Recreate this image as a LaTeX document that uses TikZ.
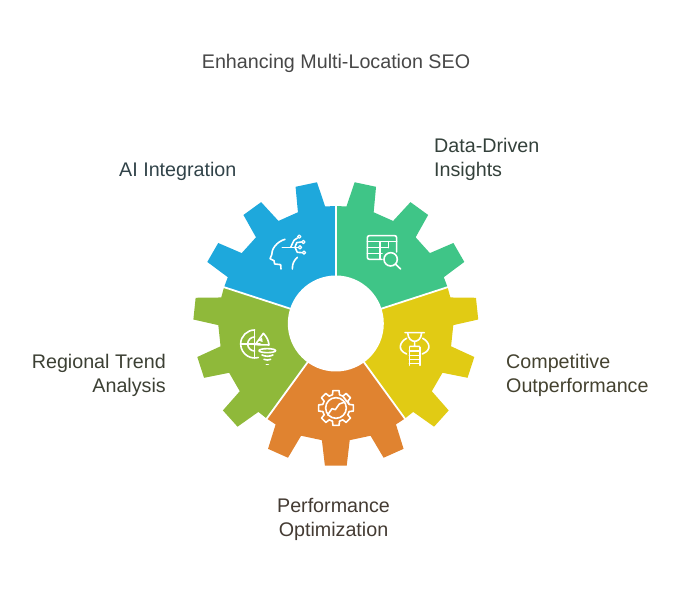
\documentclass[tikz,border=0pt]{standalone}
\usepackage{fontspec}
\setmainfont{Liberation Sans}
\definecolor{gearblue}{HTML}{1EA8DC}
\definecolor{geargreen}{HTML}{3FC587}
\definecolor{gearyellow}{HTML}{E1CB14}
\definecolor{gearorange}{HTML}{E08330}
\definecolor{gearolive}{HTML}{8FB93A}
\tikzset{
  label/.style={inner sep=0pt,font=\fontsize{19.7}{24}\selectfont},
  icon/.style={white,line width=1.6pt,line cap=round,line join=round}
}
\begin{document}
\begin{tikzpicture}[x=1pt,y=1pt]
\useasboundingbox (0,0) rectangle (684,588);
% gear
\begin{scope}[shift={(335.8,264.5)}]
\foreach \s/\col in {162/gearblue,90/geargreen,18/gearyellow,-54/gearorange,-126/gearolive}
\fill[\col] (\s:40) -- (\s:117.5) \foreach \k in {12,36,60} {
  -- ({\s-\k+6.8}:117.5) -- ({\s-\k+4.4}:142.5) -- ({\s-\k-4.4}:142.5) -- ({\s-\k-6.8}:117.5)
} -- ({\s-72}:117.5) -- ({\s-72}:40) -- cycle;
\foreach \s in {162,90,18,-54,-126}
\draw[white,line width=1.8pt] (\s:40) -- (\s:125);
\fill[white] (0,0) circle[radius=48];
\end{scope}
% icons
\begin{scope}[shift={(180,418)},x=.3333pt,y=-.3333pt]
% head
\draw[icon] (315,208) .. controls (290,215) and (274,238) .. (275,255) -- (270,266) -- (282,272) -- (284,282) -- (302,284) -- (303,297);
\draw[icon] (352,262) .. controls (342,272) and (337,280) .. (337,297);
\draw[icon] (307,232) -- (354,232);
\draw[icon] (332,232) -- (342,211) -- (352,204);
\draw[icon] (345,232) -- (350,218) -- (364,216);
\draw[icon] (345,232) -- (352,247) -- (366,248);
\draw[icon,line width=1.2pt] (358,200) circle[radius=5] (370,216) circle[radius=5] (360,232) circle[radius=5] (372,248) circle[radius=5];
% table
\draw[icon,rounded corners=2pt] (606,268) -- (562,268) -- (562,197) -- (650,197) -- (650,246);
\draw[icon] (562,215) -- (650,215) (562,233) -- (625,233) (562,250) -- (606,250) (600,215) -- (600,268) (625,215) -- (625,233);
\draw[icon] (632,268) circle[radius=20] (647,283) -- (662,297);
% trophy
\draw[icon] (675,488) -- (733,488) (683,488) .. controls (684,508) and (696,514) .. (704,514) .. controls (712,514) and (724,508) .. (725,488) (704,514) -- (704,526) (690,529) -- (718,529);
\draw[icon] (688,532) -- (688,586) (720,532) -- (720,586) (688,543) -- (720,543) (688,556) -- (720,556) (688,569) -- (720,569) (688,581) -- (720,581);
\draw[icon] (680,505) .. controls (660,515) and (650,540) .. (680,552);
\draw[icon] (728,505) .. controls (748,515) and (758,540) .. (727,552);
% cog
\begin{scope}[shift={(468,714)}]
\draw[icon] \foreach \a in {0,45,...,315} {
  ({\a-15}:41) -- ({\a-10}:53) -- ({\a+10}:53) -- ({\a+15}:41) -- ({\a+30}:41)
} -- cycle;
\draw[icon] (0,0) circle[radius=31];
\draw[icon] (-25,21) -- (-12,2) -- (-2,5) -- (10,-12) -- (27,-18);
\end{scope}
% radar
\draw[icon] (224,480) arc[start angle=-90,end angle=-285,radius=42];
\draw[icon] (224,501) arc[start angle=-90,end angle=-270,radius=21];
\draw[icon] (182,522) -- (240,522) (224,480) -- (224,565);
\draw[icon] (226,524) -- (250,490) .. controls (260,500) and (266,512) .. (267,525) -- cycle;
\fill[white] (236,512) -- (246,502) -- (248,516) -- cycle;
\draw[icon] (262,542) ellipse[x radius=25,y radius=6];
\draw[icon] (246,555) .. controls (255,560) and (270,560) .. (279,555);
\draw[icon] (252,568) .. controls (258,571) and (266,571) .. (272,568);
\draw[icon] (259,583) -- (265,583);
\end{scope}
% labels
\node[label,text=black!72] (title) at (336,525) {Enhancing Multi-Location SEO};
\node[label,text=gearblue!15!black!82,anchor=west] (ai) at (119,417) {AI Integration};
\node[label,text=geargreen!12!black!82,anchor=west,align=left] (data) at (434,429) {Data-Driven\\Insights};
\node[label,text=gearyellow!12!black!82,anchor=west,align=left] (comp) at (506,213) {Competitive\\Outperformance};
\node[label,text=gearorange!12!black!82,align=center] (perf) at (333.5,69) {Performance\\Optimization};
\node[label,text=gearolive!12!black!82,anchor=east,align=right] (trend) at (166,213) {Regional Trend\\Analysis};
\end{tikzpicture}
\end{document}
